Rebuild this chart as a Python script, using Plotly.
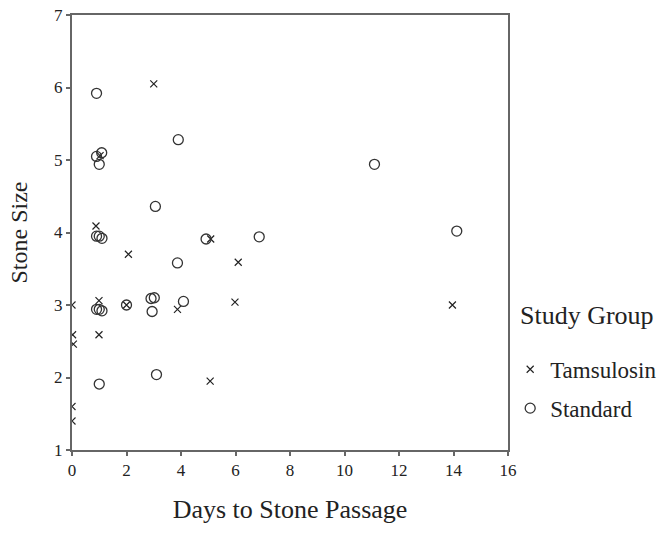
import plotly.graph_objects as go

# Tamsulosin group
tam_days = [3.0, 1.03, 0.88, 5.09, 2.07, 6.1, 0.99, 0.0, 2.0, 3.87, 5.98, 0.02, 0.05, 0.99, 5.07, 0.0, 0.0, 13.96]
tam_size = [6.05, 5.06, 4.09, 3.91, 3.70, 3.59, 3.06, 3.0, 3.0, 2.94, 3.04, 2.59, 2.46, 2.59, 1.95, 1.60, 1.40, 3.0]

# Standard group
std_days = [0.9, 3.9, 0.9, 1.09, 1.0, 3.06, 0.9, 1.0, 1.1, 4.92, 6.87, 3.87, 0.9, 1.0, 1.1, 2.0, 2.9, 3.02, 2.94, 4.09, 3.1, 1.0, 11.1, 14.12]
std_size = [5.92, 5.28, 5.05, 5.10, 4.94, 4.36, 3.95, 3.95, 3.92, 3.91, 3.94, 3.58, 2.94, 2.94, 2.92, 3.0, 3.09, 3.10, 2.91, 3.05, 2.04, 1.91, 4.94, 4.02]

x_ticks = [0, 2, 4, 6, 8, 10, 12, 14, 16]
y_ticks = [1, 2, 3, 4, 5, 6, 7]

FONT = "Liberation Serif, Times New Roman, serif"

fig = go.Figure()
fig.add_trace(go.Scatter(
    x=tam_days, y=tam_size, mode="markers", name="Tamsulosin",
    legendgroup="a",
    marker=dict(symbol="x-thin-open", size=7, color="#222", line=dict(width=1.2, color="#222")),
))
fig.add_trace(go.Scatter(
    x=std_days, y=std_size, mode="markers", name="Standard",
    legendgroup="b",
    marker=dict(symbol="circle-open", size=10, color="#333", line=dict(width=1.3, color="#333")),
))

axis_common = dict(
    showline=True, linecolor="#666", linewidth=2, mirror=True,
    ticks="outside", ticklen=4, tickcolor="#666", tickwidth=1.5,
    showgrid=False, zeroline=False, automargin=False,
    ticklabeloverflow="allow",
    tickfont=dict(family=FONT, size=17, color="#222"),
)

fig.update_layout(
    width=658, height=534,
    margin=dict(l=72, r=150, t=15, b=84, autoexpand=False),
    paper_bgcolor="white", plot_bgcolor="white",
    font=dict(family=FONT, color="#222"),
    xaxis=dict(range=[0, 16], tickvals=x_ticks,
               title=dict(text="Days to Stone Passage", font=dict(family=FONT, size=26), standoff=20),
               **axis_common),
    yaxis=dict(range=[1, 7], tickvals=y_ticks,
               title=dict(text="Stone Size", font=dict(family=FONT, size=24), standoff=20),
               **axis_common),
    legend=dict(
        font=dict(family=FONT, size=23),
        x=1.005, xanchor="left", y=0.235, yanchor="top",
        tracegroupgap=6, bgcolor="rgba(0,0,0,0)",
    ),
    annotations=[dict(
        text="Study Group", xref="paper", yref="paper",
        x=1.024, y=0.31, xanchor="left", yanchor="middle",
        showarrow=False, font=dict(family=FONT, size=26, color="#222"),
    )],
)

# Remove the browser's default body margin so the figure fills the window.
fig.write_html("out.html", post_script="document.body.style.margin='0';",
               config={"displayModeBar": False})
